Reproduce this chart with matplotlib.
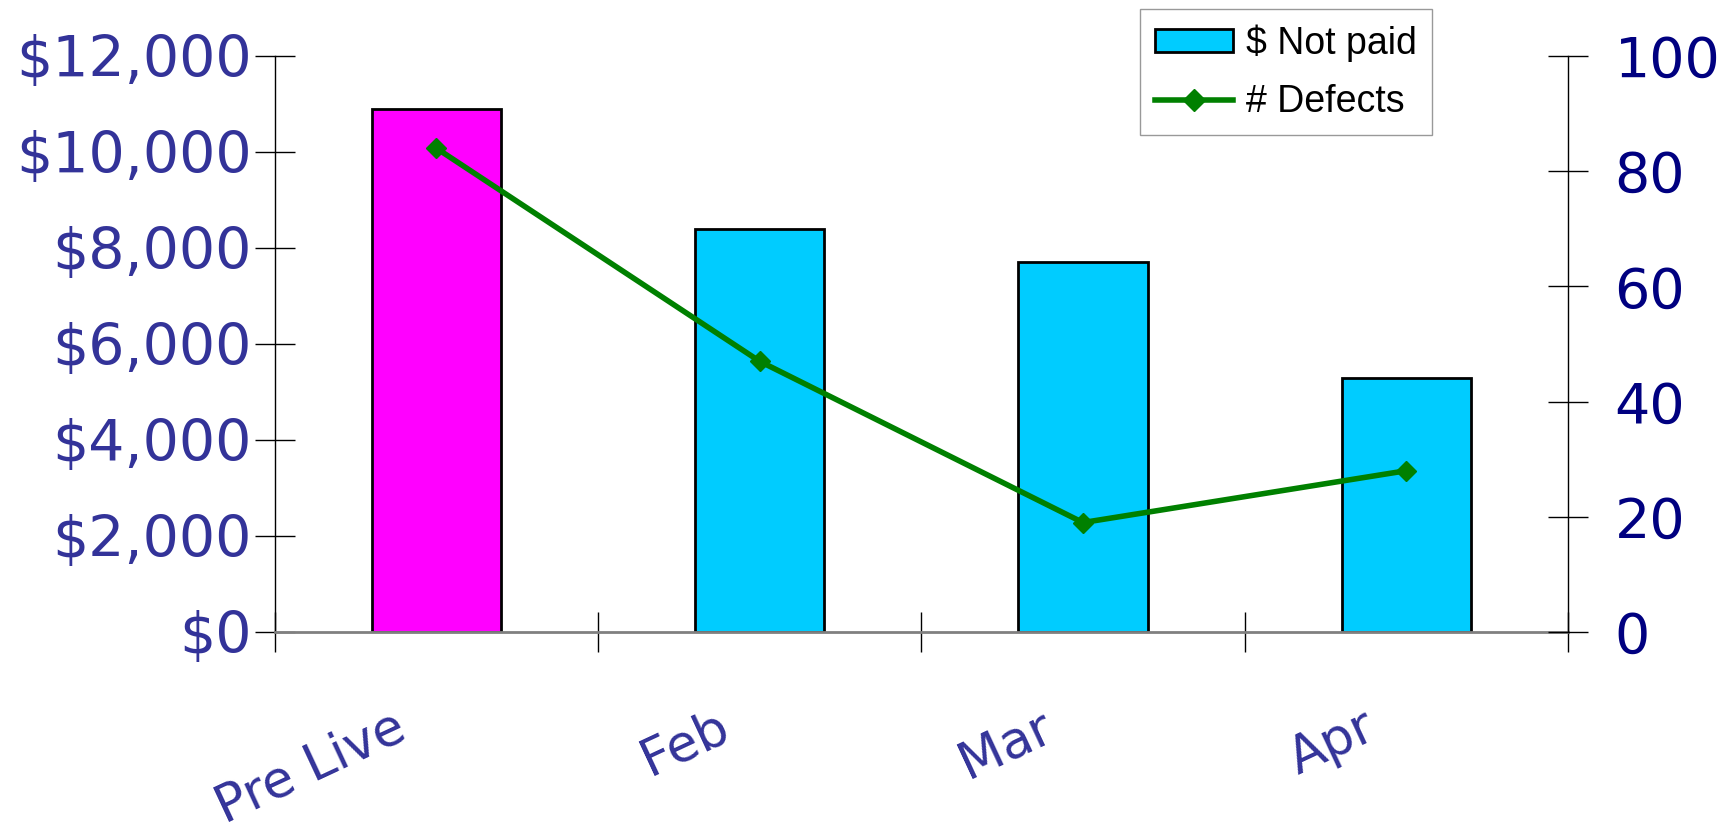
import matplotlib
matplotlib.use("Agg")
import matplotlib.pyplot as plt
import matplotlib.transforms as mtransforms
from matplotlib.patches import Patch
from matplotlib.lines import Line2D
from matplotlib.ticker import FuncFormatter

categories = ["Pre Live", "Feb", "Mar", "Apr"]
not_paid = [10900, 8400, 7700, 5300]
defects = [84, 47, 19, 28]
bar_colors = ["#FF00FF", "#00CCFF", "#00CCFF", "#00CCFF"]
left_ticks = [0, 2000, 4000, 6000, 8000, 10000, 12000]
right_ticks = [0, 20, 40, 60, 80, 100]

W, H = 1729, 835
fig = plt.figure(figsize=(W / 100, H / 100), dpi=100)
left, right, bottom, top = 274.6 / W, 1568 / W, 1 - 632 / H, 1 - 56 / H
ax = fig.add_axes([left, bottom, right - left, top - bottom])

x = list(range(len(categories)))
ax.bar(x, not_paid, width=0.4, color=bar_colors, edgecolor="black", linewidth=2, zorder=2)
ax.set_xlim(-0.5, len(categories) - 0.5)
ax.set_ylim(0, 12000)
ax.set_yticks(left_ticks)
ax.yaxis.set_major_formatter(FuncFormatter(lambda v, p: "\\$" + format(int(v), ",")))
ax.set_xticks([i - 0.5 for i in range(len(categories) + 1)])
ax.set_xticklabels([])
ax.tick_params(axis="x", direction="inout", length=29, width=1, color="black")
ax.tick_params(axis="y", direction="inout", length=29, width=1, color="black",
               labelsize=41, labelcolor="#333399", pad=2)
for s in ["top", "right"]:
    ax.spines[s].set_visible(False)
ax.spines["bottom"].set_color("#808080")
ax.spines["bottom"].set_linewidth(2)
ax.spines["left"].set_linewidth(1)
ax.patch.set_alpha(0)

ax2 = ax.twinx()
ax2.plot(x, defects, color="#008000", lw=4, marker="D", ms=10, zorder=3)
ax2.set_ylim(0, 100)
ax2.set_yticks(right_ticks)
ax2.tick_params(axis="y", direction="inout", length=29, width=1, color="black",
                labelsize=40, labelcolor="#000080", pad=19)
for s in ["top", "left", "bottom"]:
    ax2.spines[s].set_visible(False)
ax2.spines["right"].set_linewidth(1)

trans = mtransforms.offset_copy(ax.get_xaxis_transform(), fig=fig, x=-44, y=-70, units="dots")
for i, c in enumerate(categories):
    ax.text(i, 0, c, transform=trans, rotation=25, rotation_mode="anchor",
            ha="right", va="top", fontsize=37, color="#333399")

handles = [Patch(facecolor="#00CCFF", edgecolor="black", linewidth=2),
           Line2D([], [], color="#008000", lw=4, marker="D", ms=11)]
leg = fig.legend(handles, ["\\$ Not paid", "# Defects"],
                 loc="upper right", bbox_to_anchor=(1432 / W, 1 - 9 / H),
                 borderaxespad=0, fancybox=False, edgecolor="#808080",
                 prop={"family": "Liberation Sans", "size": 27},
                 handlelength=2.07, handleheight=0.55, labelspacing=0.6,
                 handletextpad=0.35, borderpad=0.4)
leg.get_frame().set_linewidth(1)

fig.savefig("out.png", dpi=100)
